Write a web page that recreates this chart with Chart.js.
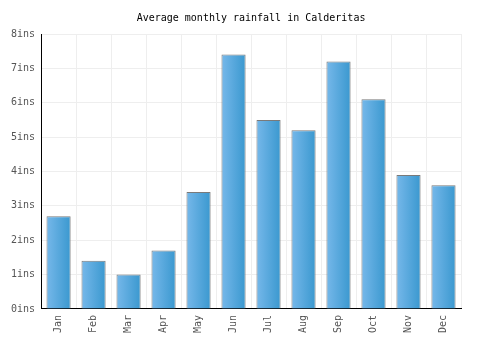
<!DOCTYPE html>
<html>
<head>
<meta charset="utf-8">
<script src="https://cdn.jsdelivr.net/npm/chart.js@4/dist/chart.umd.min.js"></script>
<style>
  html, body { margin: 0; padding: 0; background: #fff; }
  #wrap { width: 500px; height: 350px; }
</style>
</head>
<body>
<div id="wrap"><canvas id="rainChart"></canvas></div>
<script>
const months = ['Jan', 'Feb', 'Mar', 'Apr', 'May', 'Jun', 'Jul', 'Aug', 'Sep', 'Oct', 'Nov', 'Dec'];
const rainfall = [2.7, 1.4, 1.0, 1.7, 3.4, 7.4, 5.5, 5.2, 7.2, 6.1, 3.9, 3.6];
const yMax = 8;
const barPct = 0.69;

// left-to-right gradient per bar, worked out from the x scale
function barFill(context) {
  const chart = context.chart;
  const xs = chart.scales.x;
  if (!xs || context.dataIndex === undefined) return '#5aa8de';
  const half = xs.width / months.length * barPct / 2;
  const cx = xs.getPixelForValue(context.dataIndex);
  if (!Number.isFinite(cx) || !Number.isFinite(half) || half <= 0) return '#5aa8de';
  const g = chart.ctx.createLinearGradient(cx - half, 0, cx + half, 0);
  g.addColorStop(0, '#76b8ea');
  g.addColorStop(1, '#3a98cf');
  return g;
}

new Chart(document.getElementById('rainChart'), {
  type: 'bar',
  data: {
    labels: months,
    datasets: [{
      data: rainfall,
      backgroundColor: barFill,
      borderColor: '#7a7a7a',
      borderWidth: 1,
      borderSkipped: 'bottom',
      categoryPercentage: 1,
      barPercentage: barPct
    }]
  },
  options: {
    responsive: true,
    maintainAspectRatio: false,
    animation: false,
    layout: { padding: { top: 4, right: 39, bottom: 11, left: 5 } },
    plugins: {
      legend: { display: false },
      tooltip: { enabled: false },
      title: {
        display: true,
        fullSize: false,
        text: 'Average monthly rainfall in Calderitas',
        color: '#000',
        font: { family: 'DejaVu Sans Mono', size: 10, weight: 'normal' },
        padding: { top: 8, bottom: 10 }
      }
    },
    scales: {
      x: {
        grid: { color: '#eeeeee', offset: true, drawTicks: false },
        border: { color: '#000', width: 1 },
        ticks: {
          color: '#555',
          font: { family: 'DejaVu Sans Mono', size: 10 },
          maxRotation: 90,
          minRotation: 90,
          padding: 6
        }
      },
      y: {
        min: 0,
        max: yMax,
        grid: { color: '#eeeeee', drawTicks: false },
        border: { color: '#000', width: 1 },
        ticks: {
          stepSize: 1,
          color: '#555',
          font: { family: 'DejaVu Sans Mono', size: 10 },
          padding: 6,
          callback: v => v + 'ins'
        }
      }
    }
  }
});
</script>
</body>
</html>
